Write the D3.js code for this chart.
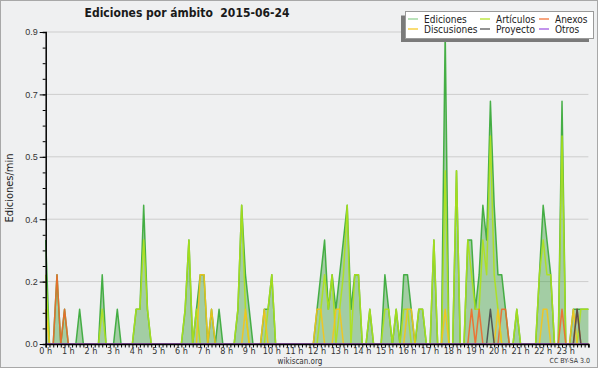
<!DOCTYPE html>
<html>
<head>
<meta charset="utf-8">
<script src="https://cdn.jsdelivr.net/npm/d3@7"></script>
<style>
  body { margin: 0; background: #fff; }
  svg { display: block; font-family: "DejaVu Sans Condensed", "DejaVu Sans", sans-serif; }
</style>
</head>
<body>
<div id="main"></div>
<script>
// edits per minute, one value every 10 minutes (00:00 ... 24:00), 12 values per row = 2 hours
const ediciones = [
  0.3, 0, 0, 0.2, 0, 0.1, 0, 0, 0, 0.1, 0, 0,          // 0h
  0, 0, 0, 0.2, 0, 0, 0, 0.1, 0, 0, 0, 0,              // 2h
  0.1, 0.1, 0.4, 0.1, 0, 0, 0, 0, 0, 0, 0, 0,          // 4h
  0, 0.1, 0.3, 0, 0.1, 0.2, 0.2, 0, 0.1, 0, 0.1, 0,    // 6h
  0, 0, 0, 0.1, 0.4, 0.2, 0.1, 0, 0, 0, 0.1, 0.1,      // 8h
  0.2, 0, 0, 0, 0, 0, 0, 0, 0, 0, 0, 0,                // 10h
  0.1, 0.2, 0.3, 0.1, 0.2, 0.1, 0.2, 0.3, 0.4, 0.1, 0.2, 0.2, // 12h
  0, 0, 0.1, 0, 0, 0, 0.2, 0.1, 0, 0.1, 0, 0.2,        // 14h
  0.2, 0.1, 0, 0.1, 0.1, 0, 0, 0.3, 0, 0, 0.9, 0,      // 16h
  0, 0.5, 0, 0, 0.3, 0.3, 0.1, 0.2, 0.4, 0.3, 0.7, 0.4, // 18h
  0.2, 0.2, 0.1, 0, 0, 0.1, 0, 0, 0, 0, 0, 0.2,        // 20h
  0.4, 0.3, 0.2, 0, 0, 0.7, 0, 0, 0.1, 0.1, 0.1, 0.1,  // 22h
  0.1
];
const articulos = [
  0.2, 0, 0, 0, 0, 0, 0, 0, 0, 0, 0, 0,
  0, 0, 0, 0.1, 0, 0, 0, 0, 0, 0, 0, 0,
  0.1, 0.1, 0.3, 0.1, 0, 0, 0, 0, 0, 0, 0, 0,
  0, 0.1, 0.3, 0, 0.1, 0, 0, 0, 0, 0, 0, 0,
  0, 0, 0, 0.1, 0.4, 0.1, 0, 0, 0, 0, 0, 0.1,
  0.2, 0, 0, 0, 0, 0, 0, 0, 0, 0, 0, 0,
  0, 0.1, 0.2, 0.1, 0.2, 0, 0.1, 0.2, 0.4, 0, 0.2, 0.2,
  0, 0, 0.1, 0, 0, 0, 0.1, 0.1, 0, 0.1, 0, 0.1,
  0.1, 0, 0, 0.1, 0.1, 0, 0, 0.3, 0, 0, 0.5, 0,
  0, 0.5, 0, 0, 0.3, 0.2, 0.1, 0.1, 0.3, 0.2, 0.6, 0.2,
  0.1, 0, 0, 0, 0, 0.1, 0, 0, 0, 0, 0, 0.2,
  0.3, 0.2, 0.2, 0, 0, 0.6, 0, 0, 0, 0, 0.1, 0.1,
  0.1
];
const anexos = [
  0, 0, 0, 0.2, 0, 0.1, 0, 0, 0, 0, 0, 0,
  0, 0, 0, 0, 0, 0, 0, 0, 0, 0, 0, 0,
  0, 0, 0, 0, 0, 0, 0, 0, 0, 0, 0, 0,
  0, 0, 0, 0, 0, 0, 0, 0, 0, 0, 0, 0,
  0, 0, 0, 0, 0, 0, 0, 0, 0, 0, 0, 0,
  0, 0, 0, 0, 0, 0, 0, 0, 0, 0, 0, 0,
  0, 0, 0, 0, 0, 0, 0, 0, 0, 0, 0, 0,
  0, 0, 0, 0, 0, 0, 0, 0, 0, 0, 0, 0,
  0, 0, 0, 0, 0, 0, 0, 0, 0, 0, 0, 0,
  0, 0, 0, 0, 0, 0.1, 0, 0.1, 0, 0, 0, 0,
  0, 0.1, 0.1, 0, 0, 0, 0, 0, 0, 0, 0, 0,
  0, 0, 0, 0, 0, 0.1, 0, 0, 0, 0.1, 0, 0,
  0
];
const discusiones = [
  0.1, 0, 0, 0, 0, 0, 0, 0, 0, 0, 0, 0,
  0, 0, 0, 0, 0, 0, 0, 0, 0, 0, 0, 0,
  0, 0, 0, 0, 0, 0, 0, 0, 0, 0, 0, 0,
  0, 0, 0, 0, 0, 0.2, 0.2, 0, 0.1, 0, 0, 0,
  0, 0, 0, 0, 0, 0.1, 0, 0, 0, 0, 0.1, 0,
  0, 0, 0, 0, 0, 0, 0, 0, 0, 0, 0, 0,
  0.1, 0.1, 0, 0, 0, 0.1, 0.1, 0, 0, 0, 0, 0,
  0, 0, 0, 0, 0, 0, 0, 0, 0, 0, 0, 0,
  0.1, 0.1, 0, 0, 0, 0, 0, 0, 0, 0, 0.1, 0,
  0, 0, 0, 0, 0, 0, 0, 0, 0, 0, 0, 0,
  0.1, 0, 0, 0, 0, 0, 0, 0, 0, 0, 0, 0,
  0.1, 0.1, 0, 0, 0, 0, 0, 0, 0.1, 0, 0, 0,
  0
];
const proyecto = [
  0, 0, 0, 0, 0, 0, 0, 0, 0, 0, 0, 0,
  0, 0, 0, 0, 0, 0, 0, 0, 0, 0, 0, 0,
  0, 0, 0, 0, 0, 0, 0, 0, 0, 0, 0, 0,
  0, 0, 0, 0, 0, 0, 0, 0, 0, 0, 0, 0,
  0, 0, 0, 0, 0, 0, 0, 0, 0, 0, 0, 0,
  0, 0, 0, 0, 0, 0, 0, 0, 0, 0, 0, 0,
  0, 0, 0, 0, 0, 0, 0, 0, 0, 0, 0, 0,
  0, 0, 0, 0, 0, 0, 0, 0, 0, 0, 0, 0,
  0, 0, 0, 0, 0, 0, 0, 0, 0, 0, 0, 0,
  0, 0, 0, 0, 0, 0, 0, 0, 0, 0, 0.1, 0,
  0, 0, 0, 0, 0, 0, 0, 0, 0, 0, 0, 0,
  0, 0, 0, 0, 0, 0, 0, 0, 0, 0.1, 0, 0,
  0
];
const otros = [
  0, 0, 0, 0, 0, 0, 0, 0, 0, 0, 0, 0,
  0, 0, 0, 0, 0, 0, 0, 0, 0, 0, 0, 0,
  0, 0, 0, 0, 0, 0, 0, 0, 0, 0, 0, 0,
  0, 0, 0, 0, 0, 0, 0, 0, 0, 0, 0, 0,
  0, 0, 0, 0, 0, 0, 0, 0, 0, 0, 0, 0,
  0, 0, 0, 0, 0, 0, 0, 0, 0, 0, 0, 0,
  0, 0, 0, 0, 0, 0, 0, 0, 0, 0, 0, 0,
  0, 0, 0, 0, 0, 0, 0, 0, 0, 0, 0, 0,
  0, 0, 0, 0, 0, 0, 0, 0, 0, 0, 0, 0,
  0, 0, 0, 0, 0, 0, 0, 0, 0, 0, 0, 0,
  0, 0, 0, 0, 0, 0, 0, 0, 0, 0, 0, 0,
  0, 0, 0, 0, 0, 0, 0, 0, 0, 0, 0, 0,
  0
];

const hourTicks = d3.range(0, 24);                 // 0 h ... 23 h
const yTicks = [0, 0.18, 0.36, 0.54, 0.72, 0.9];   // labels rounded to 1 decimal

const series = [   // drawn in this order, on top of the Ediciones area
  { name: 'Ediciones',   values: ediciones,   color: '#36a836' },
  { name: 'Artículos',   values: articulos,   color: '#aee21a' },
  { name: 'Anexos',      values: anexos,      color: '#f26a2a' },
  { name: 'Discusiones', values: discusiones, color: '#f5c518' },
  { name: 'Proyecto',    values: proyecto,    color: '#4a4a4a' },
  { name: 'Otros',       values: otros,       color: '#9a4de0' }
];

const w = 600;
const h = 370;
const plotL = 45.7, plotR = 588.4, plotT = 32, plotB = 344;

const xScale = d3.scaleLinear().domain([0, 24 * 60]).range([plotL, plotR]);   // minutes of the day
const yScale = d3.scaleLinear().domain([0, 0.9]).range([plotB, plotT]);

const svg = d3.select('#main').append('svg')
    .attr('width', w)
    .attr('height', h);

// frame
svg.append('rect')
    .attr('x', 0.5).attr('y', 0.5)
    .attr('width', w - 3).attr('height', h - 3)
    .attr('fill', '#eff0f1')
    .attr('stroke', '#a8a8a8');

// grid lines
svg.append('g')
    .selectAll('line')
    .data(yTicks.slice(1))
    .enter().append('line')
    .attr('x1', plotL).attr('x2', plotR)
    .attr('y1', d => yScale(d)).attr('y2', d => yScale(d))
    .attr('stroke', '#cdcdcd');

const t = i => i * 10;   // index -> minute

const area = d3.area()
    .x((d, i) => xScale(t(i)))
    .y0(yScale(0))
    .y1(d => yScale(d));

const line = d3.line()
    .x((d, i) => xScale(t(i)))
    .y(d => yScale(d));

svg.append('path')
    .datum(ediciones)
    .attr('d', area)
    .attr('fill', '#3a9e3a')
    .attr('fill-opacity', 0.42);

svg.append('g')
    .selectAll('path')
    .data(series)
    .enter().append('path')
    .attr('d', d => line(d.values))
    .attr('fill', 'none')
    .attr('stroke', d => d.color)
    .attr('stroke-width', 1.5)
    .attr('stroke-opacity', 0.9)
    .attr('stroke-linejoin', 'round');

// x axis: hours, minor ticks every 10 minutes
const xAxis = d3.axisBottom(xScale)
    .tickValues(d3.range(0, 24 * 60 + 1, 10))
    .tickSize(3.5)
    .tickFormat('');

svg.append('g')
    .attr('transform', 'translate(0,' + plotB + ')')
    .call(xAxis)
    .call(g => g.select('.domain').attr('stroke', '#000').attr('stroke-width', 1.5));

svg.append('g')
    .selectAll('text')
    .data(hourTicks)
    .enter().append('text')
    .attr('x', d => xScale(d * 60))
    .attr('y', 354)
    .attr('text-anchor', 'middle')
    .attr('font-size', 9)
    .attr('fill', '#333')
    .text(d => d + ' h');

// y axis
const yMinor = d3.axisLeft(yScale)
    .tickValues(d3.range(0, 0.9001, 0.045))
    .tickSize(3)
    .tickFormat('');

svg.append('g')
    .attr('transform', 'translate(' + plotL + ',0)')
    .call(yMinor)
    .call(g => g.select('.domain').attr('stroke', '#000').attr('stroke-width', 1.5));

const yAxis = d3.axisLeft(yScale)
    .tickValues(yTicks)
    .tickSize(6)
    .tickPadding(2)
    .tickFormat(d3.format('.1f'));

svg.append('g')
    .attr('transform', 'translate(' + plotL + ',0)')
    .call(yAxis)
    .call(g => g.select('.domain').remove())
    .call(g => g.selectAll('text').attr('font-size', 9).attr('fill', '#333').attr('font-family', null));

svg.append('text')   // y label
    .attr('transform', 'translate(13,188) rotate(-90)')
    .attr('text-anchor', 'middle')
    .attr('font-size', 11)
    .attr('fill', '#222')
    .text('Ediciones/min');

svg.append('text')   // title
    .attr('x', 187)
    .attr('y', 17)
    .attr('text-anchor', 'middle')
    .attr('font-size', 12)
    .attr('font-weight', 'bold')
    .attr('fill', '#1a1a1a')
    .attr('xml:space', 'preserve')
    .text('Ediciones por ámbito  2015-06-24');

// legend
const legend = svg.append('g');
legend.append('rect')   // shadow
    .attr('x', 401).attr('y', 15.5)
    .attr('width', 188).attr('height', 26.5)
    .attr('fill', '#7a7a7a');
legend.append('rect')
    .attr('x', 405.5).attr('y', 11.5)
    .attr('width', 188).attr('height', 27)
    .attr('fill', '#fff')
    .attr('stroke', '#9a9a9a');

const legendPos = [[408, 19], [480, 19], [539, 19], [408, 29], [480, 29], [539, 29]];

const items = legend.selectAll('g.item')
    .data(series)
    .enter().append('g')
    .attr('transform', (d, i) => 'translate(' + legendPos[i][0] + ',' + legendPos[i][1] + ')');

items.append('line')
    .attr('x1', 0).attr('x2', 10)
    .attr('stroke', d => d.name === 'Ediciones' ? '#8ccf8c' : d.color)
    .attr('stroke-width', 1.2);

items.append('text')
    .attr('x', 16)
    .attr('y', 3.6)
    .attr('font-size', 10)
    .attr('fill', '#222')
    .text(d => d.name);

// footer
svg.append('text')
    .attr('x', 300).attr('y', 364)
    .attr('text-anchor', 'middle')
    .attr('font-size', 8)
    .attr('fill', '#333')
    .text('wikiscan.org');

svg.append('text')
    .attr('x', 590).attr('y', 363)
    .attr('text-anchor', 'end')
    .attr('font-size', 7)
    .attr('fill', '#333')
    .text('CC BY-SA 3.0');
</script>
</body>
</html>
